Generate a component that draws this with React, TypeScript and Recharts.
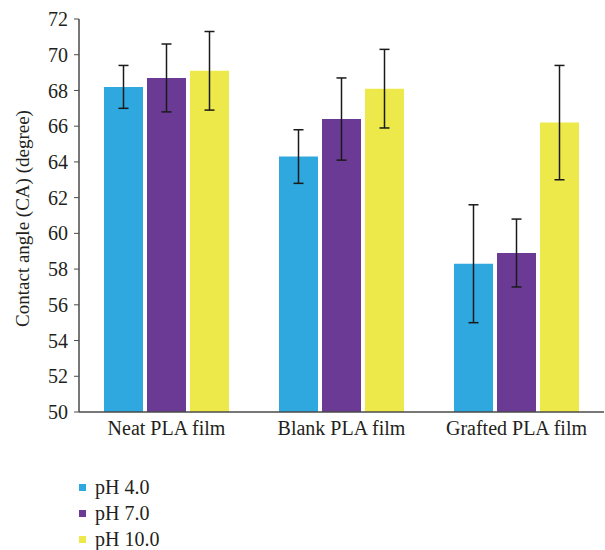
import React from "react";
import { BarChart, Bar, XAxis, YAxis, ErrorBar, Legend } from "recharts";

const categories = ["Neat PLA film", "Blank PLA film", "Grafted PLA film"];
const seriesNames = ["pH 4.0", "pH 7.0", "pH 10.0"];
const ph4 = [68.2, 64.3, 58.3];
const ph7 = [68.7, 66.4, 58.9];
const ph10 = [69.1, 68.1, 66.2];
const ph4Err = [1.2, 1.5, 3.3];
const ph7Err = [1.9, 2.3, 1.9];
const ph10Err = [2.2, 2.2, 3.2];
const yTicks = [50, 52, 54, 56, 58, 60, 62, 64, 66, 68, 70, 72];
const colors = ["#2EA8DE", "#6A3A94", "#EDE94A"];

const data = categories.map((c, i) => ({
  name: c,
  ph4: ph4[i],
  ph7: ph7[i],
  ph10: ph10[i],
  e4: ph4Err[i],
  e7: ph7Err[i],
  e10: ph10Err[i],
}));

const FONT = "'Liberation Serif', 'DejaVu Serif', serif";
const TEXT = "#231f20";
const AXIS = "#4a4a4a";

const LegendContent = () => (
  <div style={{ position: "relative", height: 98, width: 605, fontFamily: FONT }}>
    {seriesNames.map((s, i) => (
      <div key={s} style={{ position: "absolute", left: 79, top: 24 + i * 26, height: 22, display: "flex", alignItems: "center" }}>
        <div style={{ width: 7, height: 7, background: colors[i] }} />
        <span style={{ marginLeft: 9, fontSize: 20, color: TEXT, lineHeight: "22px" }}>{s}</span>
      </div>
    ))}
  </div>
);

export default function App() {
  return (
    <div style={{ position: "absolute", left: 0, top: 0, width: 605, height: 550, background: "#fff" }}>
      <BarChart
        width={605}
        height={550}
        data={data}
        margin={{ top: 19, right: 1, left: 0, bottom: 0 }}
        barCategoryGap={25}
        barGap={4}
      >
        <XAxis
          xAxisId="ticks"
          type="number"
          domain={[0, 3]}
          ticks={[1, 2]}
          height={0}
          axisLine={false}
          tickLine={{ stroke: AXIS, strokeWidth: 1 }}
          tickSize={4}
          tick={false}
        />
        <XAxis
          xAxisId="cat"
          dataKey="name"
          height={40}
          tickSize={0}
          tickMargin={9}
          tickLine={false}
          axisLine={{ stroke: AXIS, strokeWidth: 1.5 }}
          tick={{ fontSize: 20, fill: TEXT, fontFamily: FONT }}
        />
        <YAxis
          width={79}
          domain={[50, 72]}
          ticks={yTicks}
          interval={0}
          allowDataOverflow
          tickSize={5}
          tickMargin={6}
          axisLine={{ stroke: AXIS, strokeWidth: 1.5 }}
          tickLine={{ stroke: AXIS, strokeWidth: 1 }}
          tick={{ fontSize: 20, fill: TEXT, fontFamily: FONT }}
          label={{
            value: "Contact angle (CA) (degree)",
            angle: -90,
            position: "center",
            dx: -17,
            dy: 3,
            style: { fontSize: 19, fill: TEXT, fontFamily: FONT, textAnchor: "middle" },
          }}
        />
        <Legend verticalAlign="bottom" align="left" content={<LegendContent />} wrapperStyle={{ left: 0, width: 605 }} />
        <Bar xAxisId="cat" dataKey="ph4" name={seriesNames[0]} fill={colors[0]} isAnimationActive={false}>
          <ErrorBar dataKey="e4" width={5} stroke="#1a1a1a" strokeWidth={1.5} />
        </Bar>
        <Bar xAxisId="cat" dataKey="ph7" name={seriesNames[1]} fill={colors[1]} isAnimationActive={false}>
          <ErrorBar dataKey="e7" width={5} stroke="#1a1a1a" strokeWidth={1.5} />
        </Bar>
        <Bar xAxisId="cat" dataKey="ph10" name={seriesNames[2]} fill={colors[2]} isAnimationActive={false}>
          <ErrorBar dataKey="e10" width={5} stroke="#1a1a1a" strokeWidth={1.5} />
        </Bar>
      </BarChart>
    </div>
  );
}
